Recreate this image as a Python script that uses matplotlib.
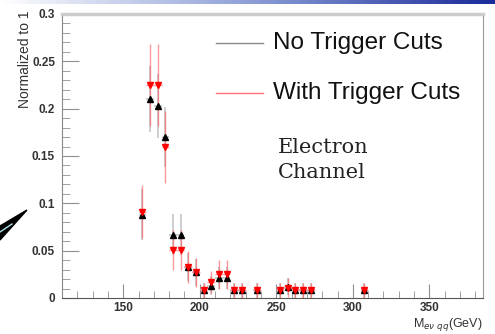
# Mass distribution, with / without trigger cuts
import numpy as np
import matplotlib
matplotlib.use("Agg")
import matplotlib.pyplot as plt
from matplotlib.patches import Polygon
from matplotlib.lines import Line2D

# bin centres (GeV)
mass = [162.5, 167.5, 172.5, 177.5, 182.5, 187.5, 192.5, 197.5, 202.5, 207.5, 212.5,
        217.5, 222.5, 227.5, 237.5, 252.5, 257.5, 262.5, 267.5, 272.5, 307.5]
half_bin = 2.5

# no trigger cuts
no_trig = [0.088, 0.210, 0.203, 0.170, 0.067, 0.067, 0.033, 0.027, 0.008, 0.013, 0.021,
           0.021, 0.008, 0.008, 0.008, 0.008, 0.012, 0.008, 0.008, 0.008, 0.008]
no_trig_err = [0.027, 0.035, 0.034, 0.032, 0.022, 0.022, 0.015, 0.014, 0.008, 0.010, 0.012,
               0.012, 0.008, 0.008, 0.008, 0.008, 0.009, 0.008, 0.008, 0.008, 0.008]

# with trigger cuts
with_trig = [0.091, 0.225, 0.225, 0.160, 0.051, 0.051, 0.033, 0.027, 0.008, 0.017, 0.025,
             0.025, 0.008, 0.008, 0.008, 0.008, 0.011, 0.008, 0.008, 0.008, 0.008]
with_trig_err = [0.028, 0.043, 0.043, 0.038, 0.021, 0.021, 0.017, 0.015, 0.008, 0.012, 0.015,
                 0.015, 0.008, 0.008, 0.008, 0.008, 0.010, 0.008, 0.008, 0.008, 0.008]

legend_labels = ["No Trigger Cuts", "With Trigger Cuts"]
legend_colors = ['#888888', '#ff7070']

plt.rcParams['font.family'] = ['Liberation Sans', 'DejaVu Sans']

W, H = 495, 334
fig = plt.figure(figsize=(W / 100, H / 100), dpi=100)

def fx(px):
    return px / W

def fy(py):
    return 1 - py / H

# slide header strip (white -> blue gradient)
strip = fig.add_axes([0, fy(4), 1, 4 / H])
grad = np.linspace(0, 1, 256).reshape(1, -1)
strip.imshow(grad, aspect='auto', cmap=matplotlib.colors.LinearSegmentedColormap.from_list(
    'hdr', ['#ffffff', '#8fa0d8', '#1a2a9a']))
strip.axis('off')

# arrow fragment on the left of the slide
fig.patches.append(Polygon([[0, fy(240)], [fx(27), fy(210)], [0, fy(226)]],
                           closed=True, transform=fig.transFigure, fc='black', ec='black'))
fig.lines.append(Line2D([0, fx(12)], [fy(232), fy(224)],
                        transform=fig.transFigure, color='#a8e0e8', lw=1))

ax = fig.add_axes([fx(62), fy(298), fx(483) - fx(62), fy(14) - fy(298)])

ax.errorbar(mass, no_trig, yerr=no_trig_err, xerr=half_bin, fmt='none',
            ecolor='#b8b8b8', elinewidth=1.2, alpha=0.8)
ax.errorbar(mass, with_trig, yerr=with_trig_err, xerr=half_bin, fmt='none',
            ecolor='#ff5555', elinewidth=1.0, alpha=0.6)
ax.plot(mass, no_trig, '^', color='black', ms=4.2, ls='none')
ax.plot(mass, with_trig, 'v', color='red', ms=4.2, ls='none')

ax.set_xlim(110, 385)
ax.set_ylim(0, 0.3)
ax.set_xticks([150, 200, 250, 300, 350])
ax.set_xticks(np.arange(110, 390, 10), minor=True)
ax.set_yticks([0, 0.05, 0.1, 0.15, 0.2, 0.25, 0.3])
ax.set_yticklabels(['0', '0.05', '0.1', '0.15', '0.2', '0.25', '0.3'])
ax.set_yticks(np.arange(0, 0.301, 0.01), minor=True)
ax.tick_params(which='both', direction='in', color='#909090', labelsize=8.5)
ax.tick_params(which='major', length=12)
ax.tick_params(which='minor', length=6)
ax.tick_params(axis='x', which='major', length=10, pad=3)
ax.tick_params(axis='x', which='minor', length=5)
ax.tick_params(axis='y', pad=5)
for lab in ax.get_xticklabels() + ax.get_yticklabels():
    lab.set_fontweight('bold')
    lab.set_color('#333333')

ax.spines['top'].set_color('#cccccc')
ax.spines['top'].set_linewidth(2.5)
ax.spines['right'].set_color('#999999')
ax.spines['left'].set_color('#888888')
ax.spines['bottom'].set_color('#555555')

fig.text(fx(25), fy(10), 'Normalized to 1', rotation=90, ha='center', va='top',
         fontsize=10, color='#333333')
fig.text(fx(483), fy(333), r'M$_{e\nu\ qq}$(GeV)', ha='right', va='bottom',
         fontsize=9, color='#333333')

# legend, drawn by hand
for py, lab, col in zip([43, 93], legend_labels, legend_colors):
    fig.lines.append(Line2D([fx(216), fx(263)], [fy(py), fy(py)],
                            transform=fig.transFigure, color=col, lw=1))
    fig.text(fx(273), fy(py), lab, ha='left', va='center', fontsize=17.5, color='#111111')

fig.text(fx(278), fy(153), 'Electron', fontsize=15, family=['DejaVu Serif'],
         color='#222222', va='baseline')
fig.text(fx(278), fy(178), 'Channel', fontsize=15, family=['DejaVu Serif'],
         color='#222222', va='baseline')

fig.savefig('out.png', dpi=100)
